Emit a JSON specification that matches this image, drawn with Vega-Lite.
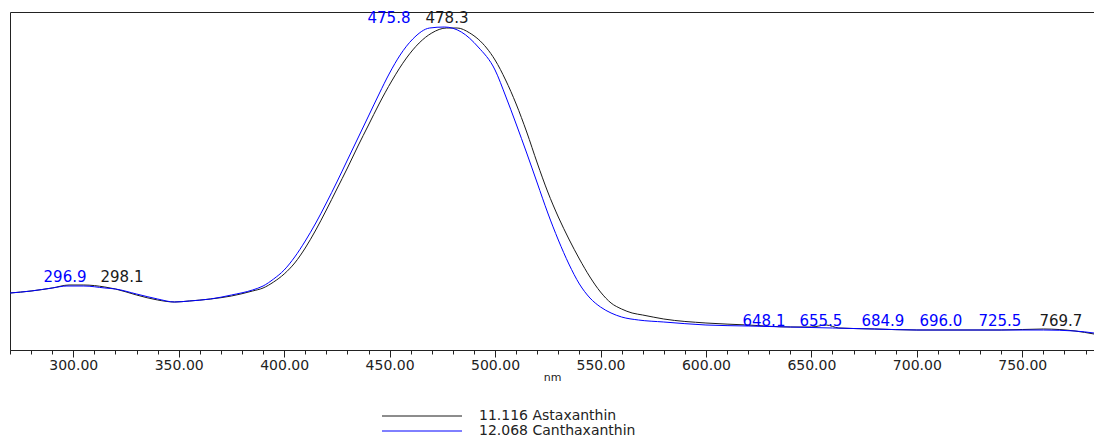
{
  "$schema": "https://vega.github.io/schema/vega-lite/v6.json",
  "width": 1084,
  "height": 338,
  "autosize": {"type": "none"},
  "padding": {"left": 10, "top": 12, "right": 0, "bottom": 87},
  "background": "white",
  "config": {
    "view": {"stroke": "#222222", "strokeWidth": 1},
    "font": "DejaVu Sans"
  },
  "datasets": {
    "spectra": [
      {"nm": 270, "abs": 57, "series": "11.116 Astaxanthin"},
      {"nm": 280, "abs": 59, "series": "11.116 Astaxanthin"},
      {"nm": 290, "abs": 62, "series": "11.116 Astaxanthin"},
      {"nm": 298, "abs": 65, "series": "11.116 Astaxanthin"},
      {"nm": 305, "abs": 65, "series": "11.116 Astaxanthin"},
      {"nm": 315, "abs": 63, "series": "11.116 Astaxanthin"},
      {"nm": 320, "abs": 61, "series": "11.116 Astaxanthin"},
      {"nm": 330, "abs": 55, "series": "11.116 Astaxanthin"},
      {"nm": 340, "abs": 50, "series": "11.116 Astaxanthin"},
      {"nm": 348, "abs": 48, "series": "11.116 Astaxanthin"},
      {"nm": 355, "abs": 49, "series": "11.116 Astaxanthin"},
      {"nm": 365, "abs": 51, "series": "11.116 Astaxanthin"},
      {"nm": 375, "abs": 54, "series": "11.116 Astaxanthin"},
      {"nm": 385, "abs": 59, "series": "11.116 Astaxanthin"},
      {"nm": 390, "abs": 62, "series": "11.116 Astaxanthin"},
      {"nm": 395, "abs": 68, "series": "11.116 Astaxanthin"},
      {"nm": 400, "abs": 76, "series": "11.116 Astaxanthin"},
      {"nm": 405, "abs": 87, "series": "11.116 Astaxanthin"},
      {"nm": 410, "abs": 102, "series": "11.116 Astaxanthin"},
      {"nm": 415, "abs": 120, "series": "11.116 Astaxanthin"},
      {"nm": 420, "abs": 140, "series": "11.116 Astaxanthin"},
      {"nm": 425, "abs": 161, "series": "11.116 Astaxanthin"},
      {"nm": 430, "abs": 182, "series": "11.116 Astaxanthin"},
      {"nm": 435, "abs": 204, "series": "11.116 Astaxanthin"},
      {"nm": 440, "abs": 225, "series": "11.116 Astaxanthin"},
      {"nm": 445, "abs": 246, "series": "11.116 Astaxanthin"},
      {"nm": 451, "abs": 269, "series": "11.116 Astaxanthin"},
      {"nm": 458, "abs": 292, "series": "11.116 Astaxanthin"},
      {"nm": 464, "abs": 307, "series": "11.116 Astaxanthin"},
      {"nm": 470, "abs": 317, "series": "11.116 Astaxanthin"},
      {"nm": 477, "abs": 322, "series": "11.116 Astaxanthin"},
      {"nm": 482, "abs": 322, "series": "11.116 Astaxanthin"},
      {"nm": 488, "abs": 317, "series": "11.116 Astaxanthin"},
      {"nm": 496, "abs": 302, "series": "11.116 Astaxanthin"},
      {"nm": 500, "abs": 290, "series": "11.116 Astaxanthin"},
      {"nm": 505, "abs": 270, "series": "11.116 Astaxanthin"},
      {"nm": 510, "abs": 246, "series": "11.116 Astaxanthin"},
      {"nm": 515, "abs": 218, "series": "11.116 Astaxanthin"},
      {"nm": 520, "abs": 187, "series": "11.116 Astaxanthin"},
      {"nm": 525, "abs": 158, "series": "11.116 Astaxanthin"},
      {"nm": 530, "abs": 133, "series": "11.116 Astaxanthin"},
      {"nm": 535, "abs": 111, "series": "11.116 Astaxanthin"},
      {"nm": 540, "abs": 91, "series": "11.116 Astaxanthin"},
      {"nm": 545, "abs": 73, "series": "11.116 Astaxanthin"},
      {"nm": 550, "abs": 58, "series": "11.116 Astaxanthin"},
      {"nm": 555, "abs": 47, "series": "11.116 Astaxanthin"},
      {"nm": 560, "abs": 41, "series": "11.116 Astaxanthin"},
      {"nm": 565, "abs": 37, "series": "11.116 Astaxanthin"},
      {"nm": 570, "abs": 35, "series": "11.116 Astaxanthin"},
      {"nm": 580, "abs": 31, "series": "11.116 Astaxanthin"},
      {"nm": 600, "abs": 27, "series": "11.116 Astaxanthin"},
      {"nm": 620, "abs": 25, "series": "11.116 Astaxanthin"},
      {"nm": 640, "abs": 23, "series": "11.116 Astaxanthin"},
      {"nm": 650, "abs": 23, "series": "11.116 Astaxanthin"},
      {"nm": 657, "abs": 25, "series": "11.116 Astaxanthin"},
      {"nm": 663, "abs": 22, "series": "11.116 Astaxanthin"},
      {"nm": 680, "abs": 21, "series": "11.116 Astaxanthin"},
      {"nm": 700, "abs": 20, "series": "11.116 Astaxanthin"},
      {"nm": 720, "abs": 20, "series": "11.116 Astaxanthin"},
      {"nm": 740, "abs": 20, "series": "11.116 Astaxanthin"},
      {"nm": 760, "abs": 21, "series": "11.116 Astaxanthin"},
      {"nm": 775, "abs": 19, "series": "11.116 Astaxanthin"},
      {"nm": 784, "abs": 16, "series": "11.116 Astaxanthin"},
      {"nm": 270, "abs": 57, "series": "12.068 Canthaxanthin"},
      {"nm": 280, "abs": 59, "series": "12.068 Canthaxanthin"},
      {"nm": 290, "abs": 62, "series": "12.068 Canthaxanthin"},
      {"nm": 297, "abs": 64, "series": "12.068 Canthaxanthin"},
      {"nm": 305, "abs": 64, "series": "12.068 Canthaxanthin"},
      {"nm": 315, "abs": 62, "series": "12.068 Canthaxanthin"},
      {"nm": 320, "abs": 61, "series": "12.068 Canthaxanthin"},
      {"nm": 330, "abs": 56, "series": "12.068 Canthaxanthin"},
      {"nm": 340, "abs": 51, "series": "12.068 Canthaxanthin"},
      {"nm": 348, "abs": 48, "series": "12.068 Canthaxanthin"},
      {"nm": 355, "abs": 49, "series": "12.068 Canthaxanthin"},
      {"nm": 365, "abs": 51, "series": "12.068 Canthaxanthin"},
      {"nm": 375, "abs": 55, "series": "12.068 Canthaxanthin"},
      {"nm": 385, "abs": 60, "series": "12.068 Canthaxanthin"},
      {"nm": 390, "abs": 64, "series": "12.068 Canthaxanthin"},
      {"nm": 395, "abs": 71, "series": "12.068 Canthaxanthin"},
      {"nm": 400, "abs": 80, "series": "12.068 Canthaxanthin"},
      {"nm": 405, "abs": 93, "series": "12.068 Canthaxanthin"},
      {"nm": 410, "abs": 109, "series": "12.068 Canthaxanthin"},
      {"nm": 415, "abs": 127, "series": "12.068 Canthaxanthin"},
      {"nm": 420, "abs": 147, "series": "12.068 Canthaxanthin"},
      {"nm": 425, "abs": 168, "series": "12.068 Canthaxanthin"},
      {"nm": 430, "abs": 190, "series": "12.068 Canthaxanthin"},
      {"nm": 435, "abs": 212, "series": "12.068 Canthaxanthin"},
      {"nm": 440, "abs": 234, "series": "12.068 Canthaxanthin"},
      {"nm": 445, "abs": 256, "series": "12.068 Canthaxanthin"},
      {"nm": 450, "abs": 277, "series": "12.068 Canthaxanthin"},
      {"nm": 455, "abs": 295, "series": "12.068 Canthaxanthin"},
      {"nm": 461, "abs": 311, "series": "12.068 Canthaxanthin"},
      {"nm": 469, "abs": 322, "series": "12.068 Canthaxanthin"},
      {"nm": 476, "abs": 323, "series": "12.068 Canthaxanthin"},
      {"nm": 484, "abs": 318, "series": "12.068 Canthaxanthin"},
      {"nm": 492, "abs": 303, "series": "12.068 Canthaxanthin"},
      {"nm": 500, "abs": 280, "series": "12.068 Canthaxanthin"},
      {"nm": 505, "abs": 254, "series": "12.068 Canthaxanthin"},
      {"nm": 510, "abs": 226, "series": "12.068 Canthaxanthin"},
      {"nm": 515, "abs": 197, "series": "12.068 Canthaxanthin"},
      {"nm": 520, "abs": 167, "series": "12.068 Canthaxanthin"},
      {"nm": 525, "abs": 137, "series": "12.068 Canthaxanthin"},
      {"nm": 530, "abs": 110, "series": "12.068 Canthaxanthin"},
      {"nm": 535, "abs": 86, "series": "12.068 Canthaxanthin"},
      {"nm": 540, "abs": 66, "series": "12.068 Canthaxanthin"},
      {"nm": 545, "abs": 52, "series": "12.068 Canthaxanthin"},
      {"nm": 550, "abs": 43, "series": "12.068 Canthaxanthin"},
      {"nm": 555, "abs": 37, "series": "12.068 Canthaxanthin"},
      {"nm": 560, "abs": 33, "series": "12.068 Canthaxanthin"},
      {"nm": 568, "abs": 30, "series": "12.068 Canthaxanthin"},
      {"nm": 580, "abs": 28, "series": "12.068 Canthaxanthin"},
      {"nm": 600, "abs": 25, "series": "12.068 Canthaxanthin"},
      {"nm": 620, "abs": 24, "series": "12.068 Canthaxanthin"},
      {"nm": 640, "abs": 23, "series": "12.068 Canthaxanthin"},
      {"nm": 660, "abs": 22, "series": "12.068 Canthaxanthin"},
      {"nm": 680, "abs": 21, "series": "12.068 Canthaxanthin"},
      {"nm": 700, "abs": 20, "series": "12.068 Canthaxanthin"},
      {"nm": 720, "abs": 20, "series": "12.068 Canthaxanthin"},
      {"nm": 740, "abs": 20, "series": "12.068 Canthaxanthin"},
      {"nm": 760, "abs": 20, "series": "12.068 Canthaxanthin"},
      {"nm": 775, "abs": 19, "series": "12.068 Canthaxanthin"},
      {"nm": 784, "abs": 17, "series": "12.068 Canthaxanthin"}
    ],
    "peaks": [
      {"nm": 296.1, "abs": 68, "label": "296.9", "series": "12.068 Canthaxanthin"},
      {"nm": 323.1, "abs": 68, "label": "298.1", "series": "11.116 Astaxanthin"},
      {"nm": 449.7, "abs": 327, "label": "475.8", "series": "12.068 Canthaxanthin"},
      {"nm": 477.2, "abs": 327, "label": "478.3", "series": "11.116 Astaxanthin"},
      {"nm": 627.5, "abs": 24, "label": "648.1", "series": "12.068 Canthaxanthin"},
      {"nm": 654.5, "abs": 24, "label": "655.5", "series": "12.068 Canthaxanthin"},
      {"nm": 683.9, "abs": 24, "label": "684.9", "series": "12.068 Canthaxanthin"},
      {"nm": 711.4, "abs": 24, "label": "696.0", "series": "12.068 Canthaxanthin"},
      {"nm": 739.4, "abs": 24, "label": "725.5", "series": "12.068 Canthaxanthin"},
      {"nm": 768.3, "abs": 24, "label": "769.7", "series": "11.116 Astaxanthin"}
    ]
  },
  "resolve": {"axis": {"x": "independent"}},
  "layer": [
    {
      "data": {"name": "spectra"},
      "mark": {"type": "line", "strokeWidth": 1, "interpolate": "monotone"},
      "encoding": {
        "x": {
          "field": "nm", "type": "quantitative",
          "scale": {"domain": [270, 784], "nice": false, "zero": false},
          "axis": {
            "orient": "bottom", "title": "nm", "values": [300, 350, 400, 450, 500, 550, 600, 650, 700, 750],
            "format": ".2f", "grid": false, "tickSize": 7, "tickColor": "#222222", "domainColor": "#222222",
            "labelFont": "DejaVu Sans", "labelFontSize": 14, "labelColor": "#222222", "labelPadding": 1,
            "titleFont": "DejaVu Sans", "titleFontSize": 11, "titleFontWeight": "normal", "titleColor": "#222222", "titlePadding": -1
          }
        },
        "y": {
          "field": "abs", "type": "quantitative",
          "scale": {"domain": [0, 338], "nice": false, "zero": false},
          "axis": null
        },
        "color": {
          "field": "series", "type": "nominal",
          "scale": {"domain": ["11.116 Astaxanthin", "12.068 Canthaxanthin"], "range": ["#1a1a1a", "#0000ff"]},
          "legend": {
            "title": null, "orient": "none", "legendX": 405, "legendY": 397,
            "symbolType": "M-20,0H20", "symbolSize": 16, "symbolStrokeWidth": 1,
            "labelFont": "DejaVu Sans", "labelFontSize": 14, "labelColor": "#222222", "labelLimit": 0,
            "labelOffset": 50, "rowPadding": 1, "padding": 0, "symbolOffset": 0
          }
        }
      }
    },
    {
      "data": {"name": "peaks"},
      "mark": {"type": "text", "font": "DejaVu Sans", "fontSize": 15, "align": "center", "baseline": "alphabetic"},
      "encoding": {
        "x": {
          "field": "nm", "type": "quantitative",
          "scale": {"domain": [270, 784], "nice": false, "zero": false},
          "axis": {
            "orient": "bottom", "title": null, "labels": false, "domain": false, "grid": false,
            "values": [270, 280, 290, 300, 310, 320, 330, 340, 350, 360, 370, 380, 390, 400, 410, 420, 430, 440, 450, 460, 470, 480, 490, 500, 510, 520, 530, 540, 550, 560, 570, 580, 590, 600, 610, 620, 630, 640, 650, 660, 670, 680, 690, 700, 710, 720, 730, 740, 750, 760, 770, 780],
            "tickSize": 4, "tickColor": "#222222"
          }
        },
        "y": {"field": "abs", "type": "quantitative", "scale": {"domain": [0, 338], "nice": false, "zero": false}, "axis": null},
        "text": {"field": "label", "type": "nominal"},
        "color": {"field": "series", "type": "nominal", "legend": null}
      }
    }
  ]
}
